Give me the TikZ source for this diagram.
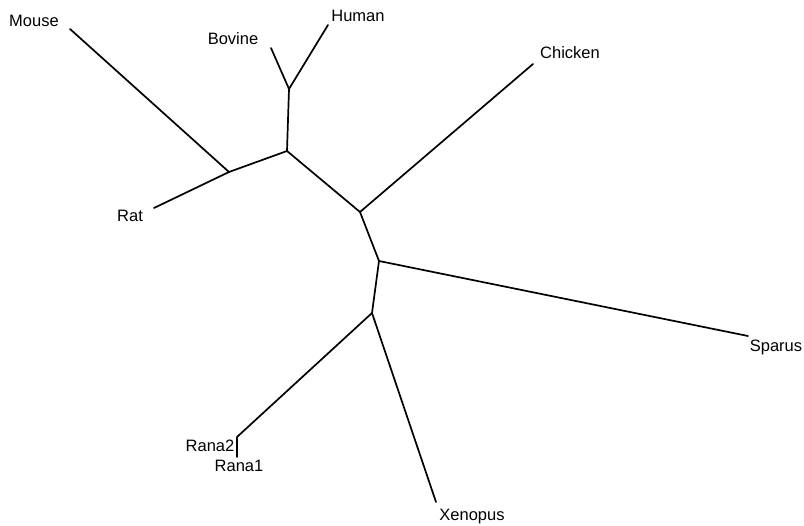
\documentclass[tikz,border=0pt]{standalone}
\usepackage{fontspec}
\setmainfont{Liberation Sans}
\begin{document}
\begin{tikzpicture}[x=1pt,y=-1pt,
  branch/.style={line width=1.7pt,line cap=round,line join=round},
  lbl/.style={inner sep=0pt,font=\fontsize{16.5}{19}\selectfont}]
\useasboundingbox (0,0) rectangle (804,526);
% internal junctions
\coordinate (mr) at (229,172);
\coordinate (ja) at (287,151);
\coordinate (jp) at (289,89);
\coordinate (jb) at (360,212);
\coordinate (jc) at (379,261);
\coordinate (jd) at (372,313);
% tips
\coordinate (tMouse) at (70,29);
\coordinate (tRat) at (154,208);
\coordinate (tBovine) at (271,48);
\coordinate (tHuman) at (328,25);
\coordinate (tChicken) at (533,64);
\coordinate (tSparus) at (748,336);
\coordinate (tRana) at (237,437);
\coordinate (tRanaB) at (237,457);
\coordinate (tXenopus) at (436,502);
% labels
\node[lbl] (Mouse) at (34,21) {Mouse};
\node[lbl] (Rat) at (130,216) {Rat};
\node[lbl] (Bovine) at (233,39) {Bovine};
\node[lbl] (Human) at (358,16) {Human};
\node[lbl] (Chicken) at (570,53) {Chicken};
\node[lbl] (Sparus) at (776,347) {Sparus};
\node[lbl] (Rana2) at (210,446) {Rana2};
\node[lbl] (Rana1) at (239,466) {Rana1};
\node[lbl] (Xenopus) at (472,517) {Xenopus};
% branches
\draw[branch] (tMouse) -- (mr) -- (tRat);
\draw[branch] (mr) -- (ja) -- (jp) -- (tBovine);
\draw[branch] (jp) -- (tHuman);
\draw[branch] (ja) -- (jb) -- (tChicken);
\draw[branch] (jb) -- (jc) -- (tSparus);
\draw[branch] (jc) -- (jd) -- (tRana) -- (tRanaB);
\draw[branch] (jd) -- (tXenopus);
\end{tikzpicture}
\end{document}
